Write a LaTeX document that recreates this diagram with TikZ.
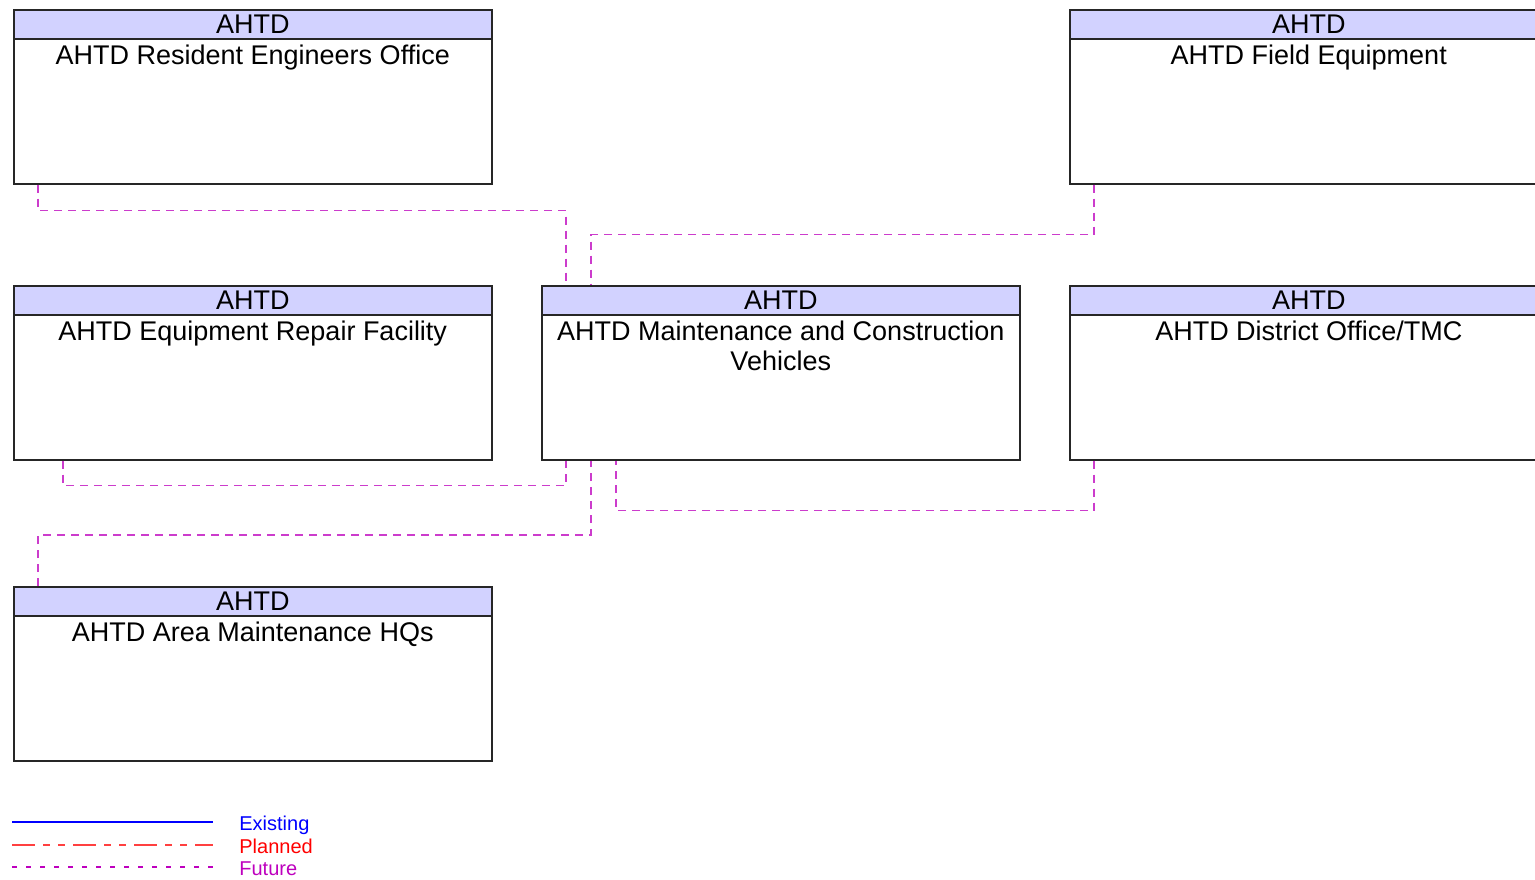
\documentclass[tikz,border=0pt]{standalone}
\usepackage{fontspec}
\setmainfont{Liberation Sans}
\usepackage{tikz}
\usetikzlibrary{positioning,calc}
\usepackage{xcolor}
\definecolor{hdrfill}{RGB}{210,210,255}
\definecolor{futcol}{RGB}{204,60,204}
\definecolor{futleg}{RGB}{190,0,190}
\definecolor{plancol}{RGB}{255,64,64}

\begin{document}
\begin{tikzpicture}[x=0.5pt,y=-0.5pt,
    corps/.style={draw=black!85, line width=0.75pt, fill=white, inner sep=0pt,
        minimum width=239pt, minimum height=87pt, anchor=north west},
    entete/.style={draw=black!85, line width=0.75pt, fill=hdrfill, inner sep=0pt,
        minimum width=239pt, minimum height=14.5pt, anchor=north west,
        font=\fontsize{13.5}{15}\selectfont},
    titre/.style={inner sep=0pt, align=center, font=\fontsize{13.5}{15}\selectfont},
    futur/.style={draw=futcol, line width=0.7pt, dash pattern=on 4pt off 3pt},
    legende/.style={anchor=base west, inner sep=0pt, font=\fontsize{10}{12}\selectfont}]
    \clip (0,0) rectangle (1535,879);
    \fill[white] (0,0) rectangle (1535,879);

    % Boites du haut
    \node[corps] (reo) at (13,9) {};
    \node[entete] (reoh) at (reo.north west) {AHTD};
    \node[titre, below=2.5pt of reoh] (reot) {AHTD Resident Engineers Office};
    \node[corps] (fe) at (1069,9) {};
    \node[entete] (feh) at (fe.north west) {AHTD};
    \node[titre, below=2.5pt of feh] (fet) {AHTD Field Equipment};

    % Rangee du milieu
    \node[corps] (erf) at (13,285) {};
    \node[entete] (erfh) at (erf.north west) {AHTD};
    \node[titre, below=2.5pt of erfh] (erft) {AHTD Equipment Repair Facility};
    \node[corps] (mcv) at (541,285) {};
    \node[entete] (mcvh) at (mcv.north west) {AHTD};
    \node[titre, below=2.5pt of mcvh] (mcvt) {AHTD Maintenance and Construction\\Vehicles};
    \node[corps] (dot) at (1069,285) {};
    \node[entete] (doth) at (dot.north west) {AHTD};
    \node[titre, below=2.5pt of doth] (dott) {AHTD District Office/TMC};

    % Boite du bas
    \node[corps] (amh) at (13,586) {};
    \node[entete] (amhh) at (amh.north west) {AHTD};
    \node[titre, below=2.5pt of amhh] (amht) {AHTD Area Maintenance HQs};

    % Liaisons futures
    \draw[futur] ($(reo.south west)+(25,0)$) -- ++(0,26) -| ($(mcv.north west)+(25,0)$);
    \draw[futur] ($(fe.south west)+(25,0)$) -- ++(0,50) -| ($(mcv.north west)+(50,0)$);
    \draw[futur] ($(erf.south west)+(50,0)$) -- ++(0,25) -| ($(mcv.south west)+(25,0)$);
    \draw[futur] ($(dot.south west)+(25,0)$) -- ++(0,50) -| ($(mcv.south west)+(75,0)$);
    \draw[futur] ($(amh.north west)+(25,0)$) -- ++(0,-51) -| ($(mcv.south west)+(50,0)$);

    % Legende
    \coordinate (ex1) at (12,822);
    \coordinate (ex2) at (213,822);
    \draw[blue, line width=0.7pt] (ex1) -- (ex2);
    \node[legende, text=blue] (ext) at (239,830) {Existing};
    \coordinate (pl1) at (12,845);
    \coordinate (pl2) at (213,845);
    \draw[plancol, line width=0.7pt, dash pattern=on 11.5pt off 4pt on 3.5pt off 4pt on 3.5pt off 4pt] (pl1) -- (pl2);
    \node[legende, text=red] (plt) at (239,853) {Planned};
    \coordinate (fu1) at (12,867);
    \coordinate (fu2) at (213,867);
    \draw[futleg, line width=0.7pt, dash pattern=on 2.5pt off 4.5pt] (fu1) -- (fu2);
    \node[legende, text=futleg] (fut) at (239,875) {Future};
\end{tikzpicture}
\end{document}
